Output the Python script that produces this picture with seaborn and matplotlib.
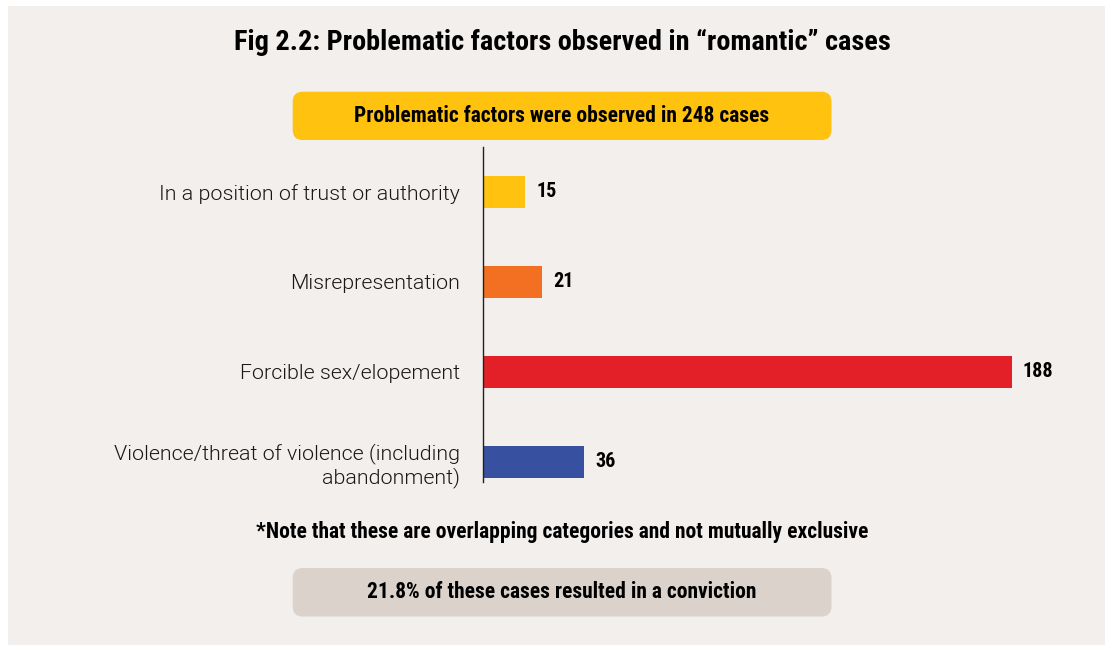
import pandas as pd
import seaborn as sns
import matplotlib.pyplot as plt
from matplotlib.patches import FancyBboxPatch, Rectangle

# data
factors = ["In a position of trust or authority",
           "Misrepresentation",
           "Forcible sex/elopement",
           "Violence/threat of violence (including\nabandonment)"]
cases = [15, 21, 188, 36]
bar_colors = ["#FFC20F", "#F36F21", "#E31F27", "#3850A0"]

title = "Fig 2.2: Problematic factors observed in \u201cromantic\u201d cases"
top_note = "Problematic factors were observed in 248 cases"
foot_note = "*Note that these are overlapping categories and not mutually exclusive"
conviction = "21.8% of these cases resulted in a conviction"

sns.set_theme(style="white")
narrow = ["Roboto Condensed", "DejaVu Sans"]
plain = ["Roboto", "DejaVu Sans"]
plt.rcParams["font.family"] = plain

df = pd.DataFrame({"factor": factors, "cases": cases})

W, H = 11.05, 6.45
fig = plt.figure(figsize=(W, H), dpi=100, facecolor="white")
bg = "#F3EFEC"
fig.patches.append(Rectangle((0.08, 0), W - 0.08, H - 0.06, transform=fig.dpi_scale_trans,
                             facecolor=bg, edgecolor="none", zorder=-5))

ax = fig.add_axes([483.3 / 1105, 1 - 482 / 645, 562 / 1105, 335 / 645])
ax.set_facecolor("none")
sns.barplot(data=df, y="factor", x="cases", hue="factor", palette=bar_colors,
            orient="h", width=0.355, legend=False, ax=ax, saturation=1, linewidth=0)
ax.set_xlim(0, 200)
ax.set_ylim(3.226, -0.497)
ax.set_xlabel("")
ax.set_ylabel("")
ax.set_xticks([])
for s in ["top", "right", "bottom"]:
    ax.spines[s].set_visible(False)
ax.spines["left"].set_color("#231F20")
ax.spines["left"].set_linewidth(1.0)
ax.tick_params(axis="y", length=0, pad=17, labelsize=15.4, labelcolor="#1A1718")
for lab in ax.get_yticklabels():
    lab.set_fontweight(300)

for i, v in enumerate(cases):
    ax.annotate(str(v), (v, i), xytext=(8, 0), textcoords="offset points",
                va="center", ha="left", fontsize=14.5, fontweight="bold",
                family=narrow, color="black")

# header / footer
fig.text(562 / 1105, 1 - 42 / 645, title, ha="center", va="center",
         fontsize=20.3, fontweight="bold", family=narrow, color="black")

def pill(x0, y0, x1, y1, color):
    # pixel coords (top-left origin) -> inches
    box = FancyBboxPatch((x0 / 100, (645 - y1) / 100), (x1 - x0) / 100, (y1 - y0) / 100,
                         boxstyle="round,pad=0,rounding_size=0.1",
                         transform=fig.dpi_scale_trans, facecolor=color,
                         edgecolor="none", zorder=-2)
    fig.patches.append(box)

pill(292.7, 91.7, 831.5, 140, "#FFC20F")
fig.text(562 / 1105, 1 - 116 / 645, top_note, ha="center", va="center",
         fontsize=15.5, fontweight="bold", family=narrow, color="black")

fig.text(562 / 1105, 1 - 532 / 645, foot_note, ha="center", va="center",
         fontsize=15.5, fontweight="bold", family=narrow, color="black")

pill(292.7, 568, 831.5, 616.5, "#DAD2CB")
fig.text(562 / 1105, 1 - 592 / 645, conviction, ha="center", va="center",
         fontsize=15.5, fontweight="bold", family=narrow, color="black")

fig.savefig("out.png", dpi=100, facecolor=fig.get_facecolor())
